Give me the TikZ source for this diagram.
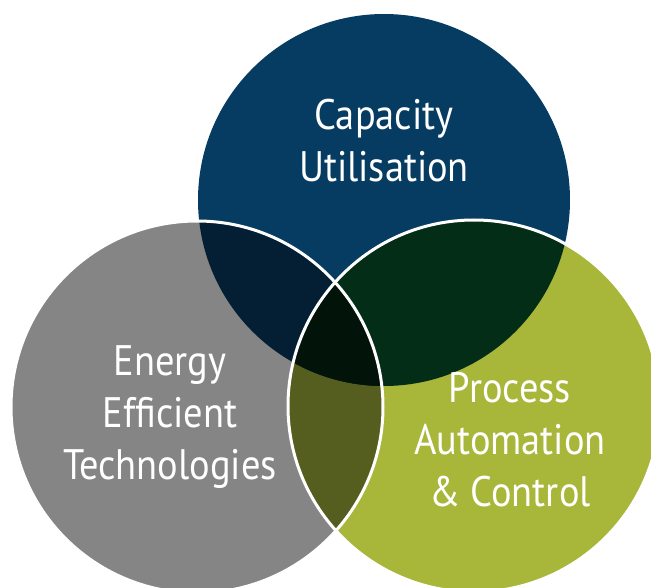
\documentclass[tikz,border=0pt]{standalone}
\usepackage{fontspec}
\setmainfont{PT Sans}[FakeStretch=0.9]
\definecolor{capblue}{HTML}{073C62}
\definecolor{enggrey}{HTML}{858585}
\definecolor{procgreen}{HTML}{A8B63A}
\definecolor{bluegrey}{HTML}{041F33}
\definecolor{bluegreen}{HTML}{042D18}
\definecolor{greygreen}{HTML}{555E1E}
\definecolor{allthree}{HTML}{021409}

\begin{document}
\begin{tikzpicture}[x=0.75pt,y=-0.75pt,
  txt/.style={text=white, align=center, inner sep=0pt, font=\fontsize{32}{39}\selectfont},
  rim/.style={draw=white, line width=2.25pt}]
\useasboundingbox (0,0) rectangle (651,588);
\def\rad{139.5pt}
\coordinate (cap) at (384,200);
\coordinate (eng) at (197,407);
\coordinate (proc) at (474,406);
% plain discs
\fill[capblue] (cap) circle (\rad);
\fill[enggrey] (eng) circle (\rad);
\fill[procgreen] (proc) circle (\rad);
% overlaps
\begin{scope}
\clip (eng) circle (\rad);
\fill[greygreen] (proc) circle (\rad);
\end{scope}
\begin{scope}
\clip (cap) circle (\rad);
\fill[bluegrey] (eng) circle (\rad);
\fill[bluegreen] (proc) circle (\rad);
\clip (eng) circle (\rad);
\fill[allthree] (proc) circle (\rad);
\end{scope}
% white rims
\draw[rim] (eng) circle (\rad);
\draw[rim] (proc) circle (\rad);
% labels
\node[txt] (captxt) at (384,141) {Capacity\\Utilisation};
\node[txt] (engtxt) at (170,417) {Energy\\Efficient\\Technologies};
\node[txt] (proctxt) at (510,440) {Process\\Automation\\\& Control};
\end{tikzpicture}
\end{document}
